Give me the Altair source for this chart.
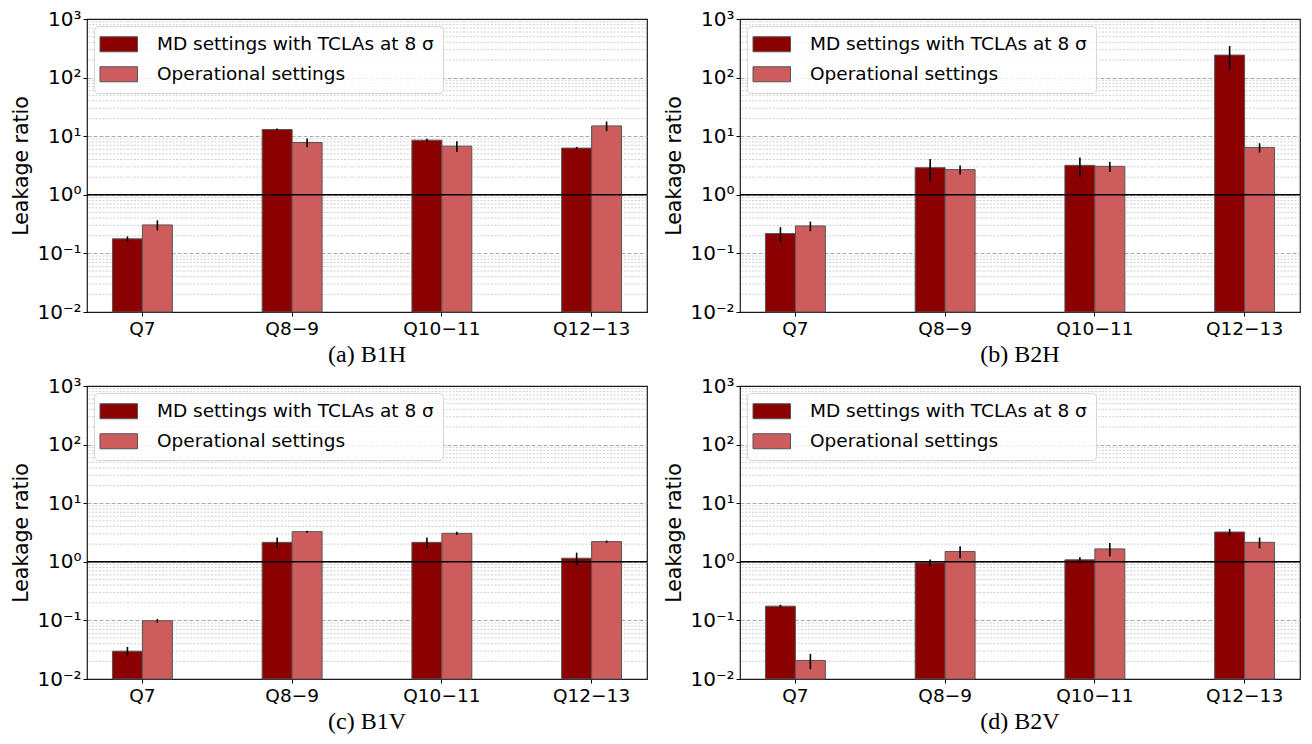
import altair as alt
import pandas as pd

categories = ["Q7", "Q8−9", "Q10−11", "Q12−13"]
series = ["MD settings with TCLAs at 8 σ", "Operational settings"]
colors = ["#8B0000", "#CD5C5C"]

# (a) B1H
b1h_md = [0.177, 13.0, 8.55, 6.26]
b1h_md_err = [0.018, 0.5, 0.5, 0.3]
b1h_op = [0.306, 7.8, 6.77, 15.0]
b1h_op_err = [0.06, 1.3, 1.4, 2.8]
# (b) B2H
b2h_md = [0.218, 2.9, 3.18, 242.0]
b2h_md_err = [0.062, 1.2, 1.15, 105.0]
b2h_op = [0.294, 2.69, 3.06, 6.43]
b2h_op_err = [0.055, 0.48, 0.6, 1.15]
# (c) B1V
b1v_md = [0.0298, 2.15, 2.15, 1.15]
b1v_md_err = [0.0055, 0.45, 0.45, 0.28]
b1v_op = [0.0986, 3.27, 3.06, 2.21]
b1v_op_err = [0.007, 0.13, 0.2, 0.1]
# (d) B2V
b2v_md = [0.175, 0.96, 1.08, 3.22]
b2v_md_err = [0.01, 0.13, 0.12, 0.42]
b2v_op = [0.0207, 1.50, 1.66, 2.15]
b2v_op_err = [0.006, 0.35, 0.43, 0.45]

major_ticks = [0.01, 0.1, 1, 10, 100, 1000]
minor_ticks = [m * 10.0 ** e for e in range(-2, 3) for m in range(2, 10)]

W, H = 560, 293
FONT = "DejaVu Sans"

ylabel_expr = ("['10⁻²','10⁻¹','10⁰','10¹','10²','10³']"
               "[round(log(datum.value)/LN10)+2]")


def panel(md, md_err, op, op_err, caption):
    rows = []
    for i, c in enumerate(categories):
        rows.append({"cat": c, "series": series[0], "value": md[i], "err": md_err[i]})
        rows.append({"cat": c, "series": series[1], "value": op[i], "err": op_err[i]})
    df = pd.DataFrame(rows)
    df["lo"] = df["value"] - df["err"]
    df["hi"] = df["value"] + df["err"]
    df["base"] = 0.01

    yscale = alt.Scale(type="log", domain=[0.01, 1000], nice=False)
    xscale = alt.Scale(paddingInner=0.6, paddingOuter=0.17)
    xaxis = alt.Axis(title=None, labelAngle=0, labelFont=FONT, labelFontSize=18.5,
                     labelColor="black", tickColor="black", tickSize=4,
                     labelPadding=3, domain=False, grid=False)
    yaxis = alt.Axis(title="Leakage ratio", values=major_ticks, labelExpr=ylabel_expr,
                     labelFont=FONT, labelFontSize=20, labelColor="black",
                     titleFont=FONT, titleFontSize=20.5, titleFontWeight="normal",
                     titleColor="black", titlePadding=5,
                     tickColor="black", tickSize=4, labelPadding=2, domain=False,
                     grid=True, gridColor="#a0a0a0", gridDash=[4, 2], gridWidth=0.9,
                     gridOpacity=alt.condition(
                         "datum.value < 0.011 || datum.value > 999",
                         alt.value(0), alt.value(1)))
    xoff = alt.XOffset("series:N", sort=series,
                       scale=alt.Scale(paddingInner=0, paddingOuter=0))

    minor = alt.Chart(pd.DataFrame({"v": minor_ticks})).mark_rule(
        color="#c4c4c4", strokeDash=[2, 1.5], strokeWidth=0.8
    ).encode(y=alt.Y("v:Q", scale=yscale, axis=yaxis))

    base = alt.Chart(df)
    bars = base.mark_bar(stroke="#555555", strokeWidth=1).encode(
        x=alt.X("cat:N", sort=categories, scale=xscale, axis=xaxis),
        xOffset=xoff,
        y=alt.Y("value:Q", scale=yscale, axis=yaxis),
        y2="base:Q",
        color=alt.Color("series:N", sort=series,
                        scale=alt.Scale(domain=series, range=colors),
                        legend=alt.Legend(
                            title=None, orient="top-left", offset=7,
                            symbolType="M-2.5,-1H2.5V1H-2.5Z", symbolSize=225,
                            symbolStrokeColor="#555555", symbolStrokeWidth=1,
                            symbolOffset=6.5, labelOffset=29,
                            labelFont=FONT, labelFontSize=18.5, labelColor="black",
                            padding=9, rowPadding=10,
                            fillColor="rgba(255,255,255,0.8)", strokeColor="#d5d5d5",
                            cornerRadius=4, labelLimit=400)),
    )
    errs = base.mark_rule(color="black", strokeWidth=1.6).encode(
        x=alt.X("cat:N", sort=categories, scale=xscale, axis=xaxis),
        xOffset=xoff,
        y=alt.Y("lo:Q", scale=yscale, axis=yaxis),
        y2="hi:Q",
    )
    one = alt.Chart(pd.DataFrame({"v": [1]})).mark_rule(
        color="black", strokeWidth=1.5
    ).encode(y=alt.Y("v:Q", scale=yscale, axis=yaxis))

    return alt.layer(minor, bars, errs, one).properties(
        width=W, height=H,
        view=alt.ViewBackground(stroke="#1a1a1a", strokeWidth=1.2),
        title=alt.TitleParams(text=caption, orient="bottom", anchor="middle",
                              frame="group", font="Liberation Serif", fontSize=24,
                              fontWeight="normal", color="black", offset=5),
    )


pa = panel(b1h_md, b1h_md_err, b1h_op, b1h_op_err, "(a) B1H")
pb = panel(b2h_md, b2h_md_err, b2h_op, b2h_op_err, "(b) B2H")
pc = panel(b1v_md, b1v_md_err, b1v_op, b1v_op_err, "(c) B1V")
pd_ = panel(b2v_md, b2v_md_err, b2v_op, b2v_op_err, "(d) B2V")

row1 = alt.hconcat(pa, pb, spacing=15).resolve_scale(color="independent").resolve_legend(color="independent")
row2 = alt.hconcat(pc, pd_, spacing=15).resolve_scale(color="independent").resolve_legend(color="independent")

chart = alt.vconcat(row1, row2, spacing=7).resolve_scale(
    color="independent").resolve_legend(color="independent").properties(
    padding={"left": 3, "top": 0, "right": 0, "bottom": 0}
).configure(background="white").configure_view(stroke="#1a1a1a", strokeWidth=1.2)

chart.save("out.html", embed_options={"renderer": "svg", "actions": False})
